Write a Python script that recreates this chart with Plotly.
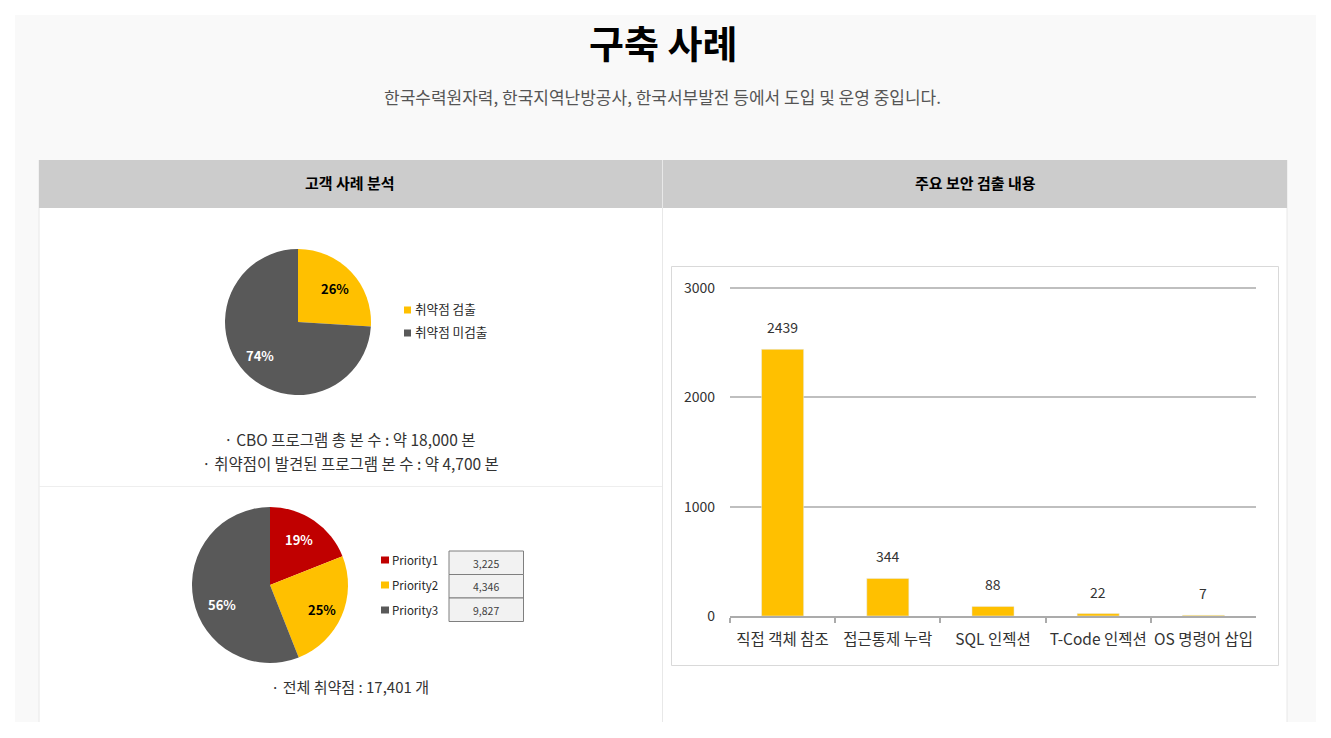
import plotly.graph_objects as go

W = 1331
H = 738
FONT = "Noto Sans CJK KR"

# pie 1: programs with / without findings
scan_labels = ['취약점 검출', '취약점 미검출']
scan_values = [26, 74]
scan_colors = ['#FFC000', '#595959']
scan_text_colors = ['#000000', '#FFFFFF']

# pie 2: findings by priority (slices follow the printed percentages, table has the counts)
priority_labels = ['Priority1', 'Priority2', 'Priority3']
priority_values = [19, 25, 56]
priority_text = ['3,225', '4,346', '9,827']
priority_colors = ['#C00000', '#FFC000', '#595959']
priority_text_colors = ['#FFFFFF', '#000000', '#FFFFFF']

# bar chart: main findings
finding_names = ['직접 객체 참조', '접근통제 누락', 'SQL 인젝션', 'T-Code 인젝션', 'OS 명령어 삽입']
finding_counts = [2439, 344, 88, 22, 7]
y_ticks = [0, 1000, 2000, 3000]


# page pixels to paper coordinates
def px(x):
    return x / W


def py(y):
    return 1 - y / H


def rect(x0, y0, x1, y1, fill, line=None, width=1):
    return dict(type='rect', xref='paper', yref='paper', layer='below',
                x0=px(x0), y0=py(y0), x1=px(x1), y1=py(y1), fillcolor=fill,
                line=dict(color=line, width=width) if line else dict(width=0))


def hline(x0, x1, y, color):
    return dict(type='line', xref='paper', yref='paper', layer='below',
                x0=px(x0), x1=px(x1), y0=py(y), y1=py(y), line=dict(color=color, width=1))


def vline(x, y0, y1, color):
    return dict(type='line', xref='paper', yref='paper', layer='below',
                x0=px(x), x1=px(x), y0=py(y0), y1=py(y1), line=dict(color=color, width=1))


def label(x, y, text, size=14, color='#333333', anchor='center', bold=False):
    return dict(xref='paper', yref='paper', x=px(x), y=py(y), text=text, showarrow=False,
                xanchor=anchor, yanchor='middle',
                font=dict(family=FONT, size=size, color=color, weight='bold' if bold else 'normal'))


fig = go.Figure()

fig.add_trace(go.Pie(labels=scan_labels, values=scan_values, sort=False, direction='clockwise',
                     rotation=0, domain=dict(x=[px(225), px(371)], y=[py(395), py(249)]),
                     marker=dict(colors=scan_colors), showlegend=False, textinfo='none'))

fig.add_trace(go.Pie(labels=priority_labels, values=priority_values, sort=False, direction='clockwise',
                     rotation=0, domain=dict(x=[px(192), px(348)], y=[py(663), py(507)]),
                     marker=dict(colors=priority_colors), showlegend=False, textinfo='none'))

fig.add_trace(go.Bar(x=finding_names, y=finding_counts, marker=dict(color='#FFC000'),
                     width=0.4, showlegend=False))

# page background, table and chart box
shapes = [
    rect(15, 15, 1316, 722, '#F9F9F9'),
    rect(39, 160, 1287, 722, '#FFFFFF'),
    vline(39, 160, 722, '#E8E8E8'),
    vline(1287, 160, 722, '#E8E8E8'),
    rect(39, 160, 1287, 208, '#CCCCCC'),
    vline(662.5, 160, 722, '#E8E8E8'),
    hline(39, 662, 486.5, '#EEEEEE'),
    rect(671.5, 266.5, 1278.5, 665.5, '#FFFFFF', '#D9D9D9'),
]

notes = [
    label(663, 42, '구축 사례', size=38, color='#000000', bold=True),
    label(662, 96, '한국수력원자력, 한국지역난방공사, 한국서부발전 등에서 도입 및 운영 중입니다.', size=17, color='#555555'),
    label(350, 183, '고객 사례 분석', size=15, color='#000000', bold=True),
    label(975, 183, '주요 보안 검출 내용', size=15, color='#000000', bold=True),
    label(350, 439, '· CBO 프로그램 총 본 수 : 약 18,000 본', size=15.5),
    label(350, 463, '· 취약점이 발견된 프로그램 본 수 : 약 4,700 본', size=15.5),
    label(350, 686, '· 전체 취약점 : 17,401 개', size=15),
]

# percent labels, placed by eye because plotly's inside text sits too close to the centre
for value, color, x, y in zip(scan_values, scan_text_colors, [335, 260], [288, 356]):
    notes.append(label(x, y, f'{value}%', size=13, color=color, bold=True))

for value, color, x, y in zip(priority_values, priority_text_colors, [299, 322, 222], [539, 609, 604]):
    notes.append(label(x, y, f'{value}%', size=13, color=color, bold=True))

# hand-placed legends next to the pies
for name, color, y in zip(scan_labels, scan_colors, [310, 333]):
    shapes.append(rect(404, y - 3.5, 411, y + 3.5, color))
    notes.append(label(413, y - 2, name, size=12.6, color='#262626', anchor='left'))

for name, color, y in zip(priority_labels, priority_colors, [560, 585, 610]):
    shapes.append(rect(381, y - 3.5, 389, y + 3.5, color))
    notes.append(label(390, y, name, size=11.5, color='#262626', anchor='left'))

# small value table beside the second pie
row_tops = [551, 574.5, 598]
row_bottoms = [574.5, 598, 621.5]
for text, top, bottom in zip(priority_text, row_tops, row_bottoms):
    shapes.append(rect(449, top, 523.5, bottom, '#F2F2F2', '#7F7F7F'))
    notes.append(label(486, (top + bottom) / 2 + 0.5, text, size=10.5, color='#404040'))

# value labels sit well above the bars
for name, count in zip(finding_names, finding_counts):
    notes.append(dict(x=name, y=count, xref='x', yref='y', text=str(count), showarrow=False,
                      yanchor='middle', yshift=22,
                      font=dict(family=FONT, size=14, color='#333333')))

# plotly drops a gridline sitting right on the axis end, so leave a little headroom above 3000
y_top = 3020
plot_bottom = 616
plot_top = plot_bottom - (plot_bottom - 288) * y_top / 3000

fig.update_layout(
    width=W, height=H,
    margin=dict(l=0, r=0, t=0, b=0, autoexpand=False),
    paper_bgcolor='#FFFFFF',
    plot_bgcolor='rgba(0,0,0,0)',
    font=dict(family=FONT),
    shapes=shapes,
    annotations=notes,
    xaxis=dict(domain=[px(730), px(1256)], type='category', tickson='boundaries', ticks='outside',
               ticklen=5, tickcolor='#ABABAB', tickwidth=2, showline=True, linecolor='#ABABAB',
               linewidth=2, showgrid=False, zeroline=False, ticklabelstandoff=8,
               tickfont=dict(family=FONT, size=15.5, color='#333333'), tickangle=0),
    yaxis=dict(domain=[py(plot_bottom), py(plot_top)], range=[0, y_top], tickvals=y_ticks, ticks='',
               showgrid=True, gridcolor='#BFBFBF', gridwidth=2, zeroline=False, showline=False,
               ticklabelstandoff=14, tickfont=dict(family=FONT, size=14, color='#333333')),
)

fig.write_html("out.html", config=dict(displayModeBar=False),
               post_script="document.body.style.margin='0';")
